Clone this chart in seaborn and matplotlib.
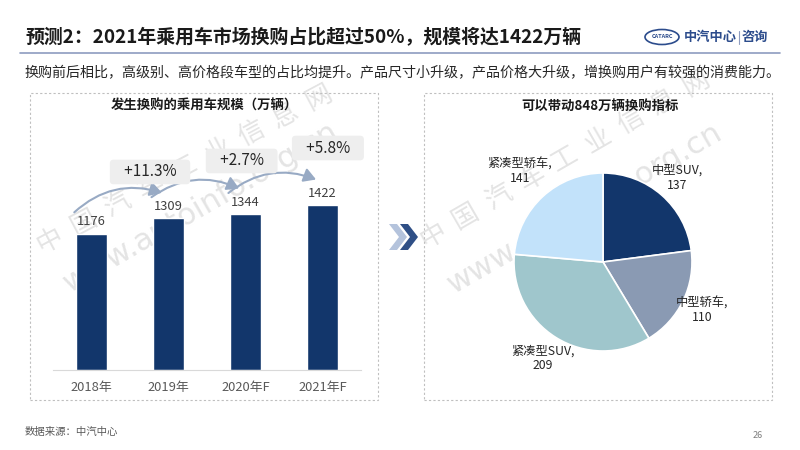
import numpy as np
import pandas as pd
import seaborn as sns
import matplotlib.pyplot as plt
from matplotlib.patches import Rectangle, Polygon, Ellipse, FancyArrowPatch
from matplotlib.lines import Line2D

# data
years = ["2018年", "2019年", "2020年F", "2021年F"]
volume = [1176, 1309, 1344, 1422]
growth = ["+11.3%", "+2.7%", "+5.8%"]

segments = ["中型SUV", "中型轿车", "紧凑型SUV", "紧凑型轿车"]
seg_volume = [137, 110, 209, 141]
seg_colors = ["#12366b", "#8a9ab3", "#9fc6cc", "#c2e2fa"]

title = "预测2：2021年乘用车市场换购占比超过50%，规模将达1422万辆"
subtitle = "换购前后相比，高级别、高价格段车型的占比均提升。产品尺寸小升级，产品价格大升级，增换购用户有较强的消费能力。"

W, H = 800, 450


def box(x0, y0, x1, y1):
    return [x0 / W, 1 - y1 / H, (x1 - x0) / W, (y1 - y0) / H]


def fx(x):
    return x / W


def fy(y):
    return 1 - y / H


sns.set_style("white")
plt.rcParams['font.family'] = ['Noto Sans CJK SC', 'DejaVu Sans']

fig = plt.figure(figsize=(8, 4.5), dpi=100)

# header
fig.text(fx(25), fy(37), title, fontsize=13.6, fontweight='bold', color='#1a1a1a', va='center')
fig.add_artist(Line2D([fx(20), fx(780)], [fy(53), fy(53)], color='#8e9cc0', lw=1.2, transform=fig.transFigure))
fig.text(fx(25), fy(73), subtitle, fontsize=10.1, color='#262626', va='center')

# logo
fig.add_artist(Ellipse((fx(662), fy(37)), 34 / W, 15 / H, fill=False, ec='#2c4c8c', lw=1.2,
                       transform=fig.transFigure))
fig.text(fx(662), fy(37), "CATARC", fontsize=4, color='#2c4c8c', ha='center', va='center', fontweight='bold')
fig.text(fx(684), fy(37), "中汽中心", fontsize=9.5, color='#2c4c8c', va='center', fontweight='bold')
fig.add_artist(Line2D([fx(739), fx(739)], [fy(31), fy(44)], color='#8e9cc0', lw=0.8, transform=fig.transFigure))
fig.text(fx(742), fy(37), "咨询", fontsize=9.5, color='#2c4c8c', va='center', fontweight='bold')

# watermarks
wm = '#e4e4e4'
for (x0, y0, ang, cx, cy) in [(50, 240, 28, 201, 207), (433, 235, 30, 585, 208)]:
    chars = "中国汽车工业信息网"
    step = np.linspace(0, 304, len(chars))
    for c, s in zip(chars, step):
        fig.text(fx(x0 + s * np.cos(np.radians(ang))), fy(y0 - s * np.sin(np.radians(ang))), c,
                 fontsize=19, color=wm, rotation=ang, ha='center', va='center', zorder=-1)
    fig.text(fx(cx), fy(cy), "www.autoinfo.org.cn", fontsize=22, color=wm, rotation=30,
             ha='center', va='center', zorder=-1, family='DejaVu Sans')

# panel frames
for x0, x1 in [(30, 378), (424, 772)]:
    fig.add_artist(Rectangle((fx(x0), fy(400)), (x1 - x0) / W, 307 / H, fill=False, ec='#bfbfbf',
                             lw=0.8, ls=(0, (2, 2)), transform=fig.transFigure))

fig.text(fx(204), fy(106), "发生换购的乘用车规模（万辆）", fontsize=9.6, fontweight='bold',
         color='#1a1a1a', ha='center', va='center')
fig.text(fx(600), fy(106), "可以带动848万辆换购指标", fontsize=9.6, fontweight='bold',
         color='#1a1a1a', ha='center', va='center')

# bar chart
ax = fig.add_axes(box(53, 120, 361, 370))
ax.set_facecolor('none')
df = pd.DataFrame({"year": years, "volume": volume})
sns.barplot(data=df, x="year", y="volume", color="#12366b", width=0.4, saturation=1, ax=ax)
ax.bar_label(ax.containers[0], labels=[str(v) for v in volume], padding=4, fontsize=9.3, color='#404040')
ax.set_xlim(-0.5, 3.5)
ax.set_ylim(0, 2160)
ax.set_xlabel("")
ax.set_ylabel("")
ax.set_yticks([])
for s in ["top", "left", "right"]:
    ax.spines[s].set_visible(False)
ax.spines["bottom"].set_color('#d9d9d9')
ax.tick_params(axis='x', length=0, pad=8, labelsize=9.3, labelcolor='#595959')

gx = [0.76, 1.95, 3.07]
gy = [1711, 1806, 1918]
for i in range(3):
    arr = FancyArrowPatch((i - 0.25, volume[i] + 170), (i + 0.95, volume[i + 1] + 215),
                          connectionstyle="arc3,rad=-0.3", arrowstyle="-|>,head_width=0.35,head_length=0.6",
                          mutation_scale=12, color='#98aac4', lw=1.5, clip_on=False, zorder=1)
    ax.add_patch(arr)
    ax.text(gx[i], gy[i], "   " + growth[i] + "   ", fontsize=11, color='#262626', ha='center', va='center',
            bbox=dict(boxstyle='round,pad=0.25', fc='#eeeeee', ec='none'), clip_on=False, zorder=3)

# chevrons
for dx, col in [(0, '#b4c3dc'), (11, '#2f4f86')]:
    pts = [(389 + dx, 224), (397 + dx, 224), (407 + dx, 237), (397 + dx, 250), (389 + dx, 250), (399 + dx, 237)]
    fig.add_artist(Polygon([(fx(x), fy(y)) for x, y in pts], closed=True, fc=col, ec='none',
                           transform=fig.transFigure))

# pie chart
pax = fig.add_axes(box(514, 173, 692, 351))
pax.pie(seg_volume, colors=seg_colors, startangle=90, counterclock=False,
        wedgeprops=dict(edgecolor='white', linewidth=1.2))
pax.set_xlim(-1, 1)
pax.set_ylim(-1, 1)
pax.set_aspect('equal')
pax.axis('off')

total = sum(seg_volume)
cum = np.cumsum([0] + seg_volume)
label_r = [1.26, 1.24, 1.27, 1.38]
for k, (name, val) in enumerate(zip(segments, seg_volume)):
    mid = np.radians(90 - 360 * (cum[k] + cum[k + 1]) / 2 / total)
    pax.text(label_r[k] * np.cos(mid), label_r[k] * np.sin(mid), f"{name},\n{val}", fontsize=8.8,
             color='#262626', ha='center', va='center', linespacing=1.15, clip_on=False)

# footer
fig.text(fx(25), fy(432), "数据来源：中汽中心", fontsize=7.5, color='#595959', va='center')
fig.text(fx(758), fy(435), "26", fontsize=6.5, color='#7f7f7f', va='center', ha='center')

fig.savefig("out.png", dpi=100)
